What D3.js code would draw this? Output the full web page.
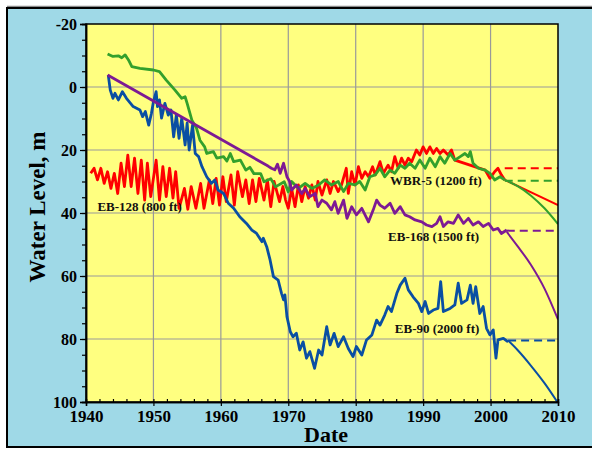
<!DOCTYPE html>
<html>
<head>
<meta charset="utf-8">
<script src="https://cdn.jsdelivr.net/npm/d3@7"></script>
<style>
  body { margin: 0; background: #fff; }
  text { font-family: "Liberation Serif", "Times New Roman", serif; font-weight: bold; }
</style>
</head>
<body>
<div id="chart"></div>
<script>
// measured series, [year, water level (m below datum)]
const eb128 = [[1940.7,27.4],[1941.2,25.8],[1941.7,29.5],[1942.2,25.8],[1942.7,30.6],[1943.2,26.9],[1943.7,32.2],[1944.2,27.4],
  [1944.7,33.8],[1945.2,24.2],[1945.7,31.6],[1946.2,21.6],[1946.7,31.6],[1947.2,22.6],[1947.7,33.8],[1948.2,23.2],[1948.7,35.9],
  [1949.1,24.2],[1949.6,34.8],[1950.4,23.2],[1950.9,35.9],[1951.4,25.3],[1951.9,34.8],[1952.4,25.8],[1952.9,35.3],[1953.3,26.9],
  [1953.8,38.5],[1954.6,32.2],[1955.1,38.8],[1955.6,31.6],[1956.3,38.5],[1957,30.6],[1957.5,38.5],[1958.3,29.5],[1958.8,37],
  [1959.3,29],[1959.8,37.5],[1960.3,28.5],[1960.8,36.4],[1961.5,27.9],[1962,37.5],[1962.5,26.9],[1963.2,34.8],[1963.7,29.5],
  [1964.2,37],[1964.7,29.5],[1965.2,36.4],[1965.7,29],[1966.4,35.9],[1966.9,29.5],[1967.4,38],[1967.9,30],[1968.7,36.4],
  [1969.2,31.6],[1969.6,35.9],[1970,38.5],[1970.5,32.2],[1971,38],[1971.5,31.1],[1972,36.4],[1972.5,31.6],[1973,35.3],
  [1973.5,31.1],[1974,35.9],[1974.4,30],[1975,34.3],[1975.7,29.5],[1976.2,33.8],[1976.7,30],[1977.4,33.2],[1977.9,31.1],
  [1978.6,25.8],[1978.9,33.8],[1979.4,26.9],[1979.9,31.1],[1980.4,25.3],[1980.9,29],[1981.4,26.9],[1981.9,28.5],[1982.5,25.3],
  [1982.9,27.9],[1983.6,23.7],[1984.1,27.4],[1984.8,24.8],[1985.3,26.9],[1985.8,22.1],[1986.3,25.8],[1986.8,22.6],[1987.3,24.8],
  [1987.8,22.6],[1988.3,23.7],[1989,20],[1989.5,21.6],[1990,19],[1990.5,21.1],[1991,19],[1991.5,21.1],[1992,19.5],[1992.5,21.1],
  [1993,20],[1993.7,21.6],[1994.2,20],[1994.7,23.2],[1999.2,26.4],[1999.9,29],[2000.6,26.9],[2001.1,25.8],[2001.6,27.9],[2002.1,29.5]];
const wbr5 = [[1943.2,-10.5],[1944,-9.7],[1944.8,-9.9],[1945.3,-9.3],[1945.8,-10.2],[1946.3,-8.6],[1946.8,-6.5],[1948,-5.9],
  [1950,-5.4],[1950.9,-4.9],[1951.9,-2.2],[1953.2,1],[1954.2,3.6],[1954.7,3.1],[1955,5.2],[1955.7,10.5],[1956.4,13.1],
  [1956.9,16.9],[1957.6,19],[1957.9,21.1],[1958.9,20.5],[1959.4,22.6],[1960.4,22.1],[1960.9,23.5],[1961.4,21.1],[1961.9,23.7],
  [1962.9,23.2],[1963.7,26.4],[1964.3,25.5],[1964.9,27.5],[1965.9,27.5],[1966.4,30.1],[1967.4,29.1],[1968.1,31.7],[1969.4,30.1],
  [1970,33.3],[1970.5,30],[1971.5,32.2],[1972.5,30.6],[1973.5,32.2],[1974.5,31.1],[1975.4,29.5],[1976.4,31.1],[1977.4,30],
  [1978.2,33.2],[1978.9,30.6],[1979.9,31.1],[1980.6,30],[1981.4,32.7],[1982.1,28.5],[1982.9,27.9],[1983.6,25.8],[1984.3,28.5],
  [1985.1,26.4],[1985.8,27.4],[1986.6,24.8],[1987.3,25.8],[1988,24.2],[1988.8,25.8],[1989.5,23.2],[1990.3,25.8],[1991,22.6],
  [1991.8,25.3],[1992.5,22.1],[1993.2,24.2],[1994,21.1],[1994.7,23.2],[1995.5,22.1],[1996.2,21.1],[1996.7,22.1],[1997,20.5],
  [1997.4,24.2],[1998.2,25.8],[1999.2,26.4],[1999.9,27.4],[2000.6,29.5],[2001.4,28.5],[2002.1,29.5]];
const eb168 = [[1943.2,-3.8],[1967,25.1],[1967.5,25.8],[1968,26.3],[1968.4,24.5],[1968.8,27.4],[1969.3,24.2],[1969.8,28.5],
  [1970.2,30],[1970.5,32.7],[1971.2,31.1],[1972,33.8],[1972.5,32.2],[1973.2,34.8],[1974,33.8],[1974.4,38],[1975,35.9],
  [1975.7,36.9],[1976.4,39],[1976.9,36.4],[1977.4,40.1],[1978.2,35.9],[1978.7,41.7],[1979.4,38],[1980.1,40.6],[1980.9,38.5],
  [1981.9,42.8],[1982.6,39],[1983.1,35.9],[1983.6,37.5],[1984.3,38.5],[1985.1,36.9],[1985.8,40.1],[1986.6,38],[1987.3,40.6],
  [1988,41.2],[1988.8,42.2],[1989.8,42.8],[1990.5,43.8],[1991.3,44.3],[1992,43.3],[1992.5,41.2],[1993,44.3],[1993.7,42.8],
  [1994.5,43.3],[1995.2,40.6],[1996,43.3],[1996.7,41.7],[1997.4,43.8],[1998.2,42.8],[1998.9,44.3],[1999.7,43.3],[2000.4,45.4],
  [2001.1,44.9],[2001.6,46.5],[2002.4,45.4]];
const eb90 = [[1943.3,-3.8],[1943.6,1],[1944,3.6],[1944.3,2],[1944.8,4.1],[1945.4,1.5],[1946,3.6],[1947,6.2],[1948,7.3],
  [1948.4,9.4],[1948.8,7.8],[1949.3,12.1],[1949.7,8.4],[1950,4.7],[1950.4,1.5],[1950.6,6.2],[1950.9,4.1],[1951.2,9.9],
  [1951.7,5.2],[1952.2,8.9],[1952.6,7.3],[1953,15.8],[1953.4,8.9],[1953.8,16.3],[1954.2,9.9],[1954.7,18.4],[1955,11.5],
  [1955.3,20],[1955.8,12.1],[1956.2,21.1],[1956.7,22.1],[1957.2,25.3],[1957.9,28.5],[1958.6,30.6],[1959.1,29.5],[1959.6,32.7],
  [1960.4,33.8],[1961.1,36.9],[1961.9,38.5],[1962.8,41.2],[1963.8,43.3],[1964.6,45.4],[1965.3,46.5],[1966.1,49.1],[1966.3,48],
  [1966.8,50.7],[1967.3,54.9],[1967.8,60.2],[1968.5,61.3],[1969,65.5],[1969.3,67.6],[1969.5,66],[1969.8,72.9],[1970.3,77.7],
  [1970.7,79.3],[1971.2,78.2],[1971.7,83.5],[1972.2,80.9],[1972.7,86.1],[1973.2,84],[1973.9,89.3],[1974.5,83.5],[1975,85.1],
  [1975.7,76.1],[1976.2,81.9],[1976.8,78.2],[1977.4,82.4],[1978.2,79.3],[1978.9,83],[1979.6,85.6],[1980.1,82.4],[1980.9,85.1],
  [1981.6,80.3],[1982.4,78.7],[1983.1,74],[1983.6,75.6],[1984.3,72.4],[1984.8,69.7],[1985.3,71.3],[1986.1,65.5],[1986.6,62.9],
  [1987.3,60.7],[1987.8,64.4],[1988.5,66.6],[1989.3,68.7],[1989.8,71.3],[1990.3,68.1],[1990.8,71.9],[1991.5,70.8],[1992.2,70.3],
  [1992.6,61.8],[1993,71.3],[1994,70.3],[1994.7,69.2],[1995.2,62.3],[1995.7,68.7],[1996.5,67.6],[1997,62.9],[1997.4,68.7],
  [1997.8,63.4],[1998.4,71.9],[1998.9,69.7],[1999.4,76.6],[1999.9,78.7],[2000.4,77.1],[2000.8,86.1],[2001.1,80.3],[2001.9,79.8],
  [2002.6,80.9]];

// projections to 2010: flat (dashed) and trend (solid)
const eb128Flat = [[2002.1,25.8],[2010,25.8]];
const eb128Trend = [[2002.1,29.5],[2010,37.5]];
const wbr5Flat = [[2002.1,29.8],[2010,29.8]];
const wbr5Trend = [[2002.1,29.5],[2004,31.5],[2006,34.5],[2008,38.5],[2010,43.5]];
const eb168Flat = [[2002.4,45.6],[2010,45.6]];
const eb168Trend = [[2002.4,46],[2004,50.5],[2006,56.5],[2008,64],[2010,73.8]];
const eb90Flat = [[2002.6,80.5],[2010,80.5]];
const eb90Trend = [[2002.6,80.5],[2004,83.5],[2006,88.5],[2008,94],[2010,100.3]];

const yearTicks = [1940,1950,1960,1970,1980,1990,2000,2010];
const levelTicks = [-20,0,20,40,60,80,100];

const W = 592, H = 449;
const svg = d3.select("#chart").append("svg").attr("width", W).attr("height", H);

// panel
svg.append("line").attr("x1", 7).attr("x2", W).attr("y1", 6.5).attr("y2", 6.5)
  .attr("stroke", "#8a8a8a").attr("stroke-width", 1.5);
svg.append("rect").attr("x", 7).attr("y", 8).attr("width", 600).attr("height", 439)
  .attr("fill", "#9fd9e7").attr("stroke", "#000").attr("stroke-width", 2);

const x = d3.scaleLinear().domain([1940, 2010]).range([86, 558]);
const y = d3.scaleLinear().domain([-20, 100]).range([24, 402]);

svg.append("rect").attr("x", 86).attr("y", 24).attr("width", 472).attr("height", 378).attr("fill", "#ffff80");

svg.append("clipPath").attr("id", "plot").append("rect")
  .attr("x", 86).attr("y", 24).attr("width", 472).attr("height", 378);

// grid
svg.append("g").selectAll("line").data(yearTicks.slice(1, -1)).join("line")
  .attr("x1", d => x(d)).attr("x2", d => x(d)).attr("y1", 24).attr("y2", 402)
  .attr("stroke", "#999").attr("stroke-width", 1.2);
svg.append("g").selectAll("line").data(levelTicks.slice(1, -1)).join("line")
  .attr("y1", d => y(d)).attr("y2", d => y(d)).attr("x1", 86).attr("x2", 558)
  .attr("stroke", "#999").attr("stroke-width", 1.2);

const line = d3.line().x(d => x(d[0])).y(d => y(d[1]));
const smooth = d3.line().x(d => x(d[0])).y(d => y(d[1])).curve(d3.curveMonotoneX);
const plot = svg.append("g").attr("clip-path", "url(#plot)");

function drawWell(obs, flat, trend, color) {
  plot.append("path").attr("d", line(obs)).attr("fill", "none").attr("stroke", color)
    .attr("stroke-width", 2.8).attr("stroke-linejoin", "round");
  plot.append("path").attr("d", line(flat)).attr("fill", "none").attr("stroke", color)
    .attr("stroke-width", 2).attr("stroke-dasharray", "8,5");
  plot.append("path").attr("d", smooth(trend)).attr("fill", "none").attr("stroke", color)
    .attr("stroke-width", 2);
}
drawWell(eb128, eb128Flat, eb128Trend, "#ff0000");
drawWell(wbr5, wbr5Flat, wbr5Trend, "#33a02c");
drawWell(eb90, eb90Flat, eb90Trend, "#0a4fa3");
drawWell(eb168, eb168Flat, eb168Trend, "#7d1a94");

// frame
svg.append("rect").attr("x", 86).attr("y", 24).attr("width", 472).attr("height", 378)
  .attr("fill", "none").attr("stroke", "#000").attr("stroke-width", 1.5);

// axes
const yAxis = svg.append("g").attr("transform", "translate(86,0)")
  .call(d3.axisLeft(y).tickValues(levelTicks).tickSize(6).tickPadding(3).tickFormat(d => String(d)));
svg.append("g").attr("transform", "translate(86,0)")
  .call(d3.axisLeft(y).tickValues(d3.range(-20, 101, 5)).tickSize(4).tickFormat(""));
yAxis.selectAll("text").style("font-size", "16px");

const xAxis = svg.append("g").attr("transform", "translate(0,402)")
  .call(d3.axisBottom(x).tickValues(yearTicks).tickSize(4).tickPadding(4).tickFormat(d => String(d)));
svg.append("g").attr("transform", "translate(0,402)")
  .call(d3.axisBottom(x).tickValues(d3.range(1940, 2011, 2)).tickSize(-3).tickFormat(""));
xAxis.selectAll("text").style("font-size", "17px");

svg.selectAll(".domain").attr("stroke", "#000").attr("stroke-width", 1.5);
svg.selectAll(".tick line").attr("stroke", "#000").attr("stroke-width", 1.2);
svg.selectAll(".tick text").attr("fill", "#000").style("font-family", "'Liberation Serif', serif").style("font-weight", "bold");

// titles
svg.append("text").attr("transform", "translate(45,207) rotate(-90)")
  .attr("text-anchor", "middle").style("font-size", "23px").text("Water Level, m");
svg.append("text").attr("x", 326).attr("y", 442)
  .attr("text-anchor", "middle").style("font-size", "22px").text("Date");

// well labels
const labels = [
  {t: "EB-128 (800 ft)", yr: 1941.7, m: 39.5},
  {t: "WBR-5 (1200 ft)", yr: 1985.1, m: 31.1},
  {t: "EB-168 (1500 ft)", yr: 1984.8, m: 48.9},
  {t: "EB-90 (2000 ft)", yr: 1985.8, m: 78}
];
svg.append("g").selectAll("text").data(labels).join("text")
  .attr("x", d => x(d.yr)).attr("y", d => y(d.m))
  .style("font-size", "13px").attr("fill", "#111").text(d => d.t);
</script>
</body>
</html>
